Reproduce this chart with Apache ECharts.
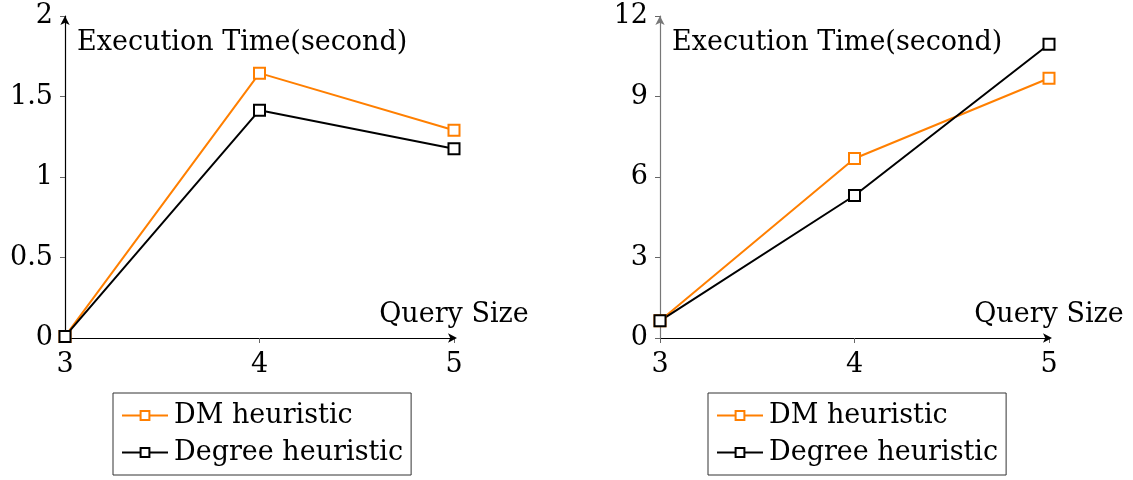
<!DOCTYPE html>
<html><head><meta charset="utf-8">
<script src="https://cdn.jsdelivr.net/npm/echarts@6/dist/echarts.min.js"></script>
<style>html,body{margin:0;padding:0;background:#fff}#c{width:1133px;height:480px}</style>
</head><body><div id="c"></div>
<script>
const querySizes = [3, 4, 5];
const leftDM = [0.01, 1.645, 1.29];
const leftDegree = [0.01, 1.415, 1.175];
const rightDM = [0.64, 6.69, 9.68];
const rightDegree = [0.64, 5.31, 10.95];
const leftYTicks = [0, 0.5, 1, 1.5, 2];
const rightYTicks = [0, 3, 6, 9, 12];
const seriesNames = ['DM heuristic', 'Degree heuristic'];
const yName = 'Execution Time(second)';
const xName = 'Query Size';

const FONT = 'DejaVu Serif';
const FS = 27;
const ORANGE = '#ff7f00';
const pairs = (ys) => querySizes.map((x, i) => [x, ys[i]]);

const chart = echarts.init(document.getElementById('c'), null, {renderer: 'canvas'});

function xAx(gi) {
  return {
    type: 'value', gridIndex: gi, min: 3, max: 5, interval: 1,
    axisLine: {show: true, lineStyle: {color: '#000', width: 1.2}, symbol: ['none', 'arrow'], symbolSize: [7, 9], symbolOffset: [0, 3]},
    axisTick: {show: true, length: 5, inside: false, lineStyle: {color: '#666'}},
    axisLabel: {fontFamily: FONT, fontSize: FS, color: '#000', margin: 13},
    splitLine: {show: false},
    name: xName, nameLocation: 'end', nameGap: 0,
    nameTextStyle: {fontFamily: FONT, fontSize: FS, color: '#000', align: 'center', verticalAlign: 'bottom', padding: [0, 0, 10, 0]}
  };
}
function yAx(gi, max, interval, col) {
  return {
    type: 'value', gridIndex: gi, min: 0, max: max, interval: interval,
    axisLine: {show: true, lineStyle: {color: col, width: 1.2}, symbol: ['none', 'arrow'], symbolSize: [7, 9]},
    axisTick: {show: true, length: 5, lineStyle: {color: '#666'}},
    axisLabel: {fontFamily: FONT, fontSize: FS, color: '#000', margin: 12,
      formatter: (v) => String(v)},
    splitLine: {show: false},
    name: yName, nameLocation: 'end', nameGap: -27,
    nameTextStyle: {fontFamily: FONT, fontSize: FS, color: '#000', align: 'left', verticalAlign: 'middle', padding: [0, 0, 0, 12]}
  };
}
function ser(name, data, gi, color) {
  return {
    type: 'line', name: name, xAxisIndex: gi, yAxisIndex: gi, data: data,
    symbol: 'rect', symbolSize: 11, showSymbol: true,
    lineStyle: {color: color, width: 2},
    itemStyle: {color: '#fff', borderColor: color, borderWidth: 2},
    emphasis: {disabled: true}, animation: false
  };
}
function legend(left) {
  return {
    left: left, top: 393, orient: 'vertical',
    data: seriesNames.slice(), itemWidth: 46, itemHeight: 11, itemGap: 10,
    padding: [9, 8, 9, 8],
    borderColor: '#333', borderWidth: 1, backgroundColor: '#fff',
    textStyle: {fontFamily: FONT, fontSize: FS, color: '#000', padding: [0, 0, 0, 1]},
    selectedMode: false
  };
}

chart.setOption({
  animation: false,
  grid: [
    {left: 65, top: 16, width: 389, height: 322},
    {left: 660, top: 16, width: 389, height: 322}
  ],
  xAxis: [xAx(0), xAx(1)],
  yAxis: [yAx(0, 2, 0.5, '#000'), yAx(1, 12, 3, '#777')],
  legend: [legend(113), legend(708)],
  series: [
    ser(seriesNames[0], pairs(leftDM), 0, ORANGE),
    ser(seriesNames[1], pairs(leftDegree), 0, '#000'),
    ser(seriesNames[0], pairs(rightDM), 1, ORANGE),
    ser(seriesNames[1], pairs(rightDegree), 1, '#000')
  ]
});
</script></body></html>
